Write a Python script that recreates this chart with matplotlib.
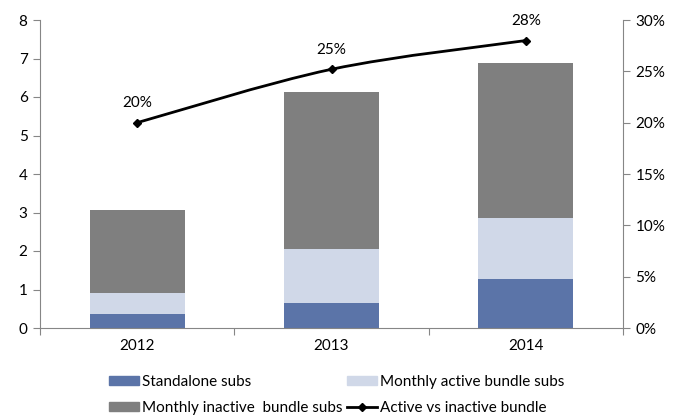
import numpy as np
import matplotlib.pyplot as plt
from matplotlib.path import Path
from matplotlib.patches import PathPatch, Patch
from matplotlib.lines import Line2D

plt.rcParams["font.family"] = ["Lato", "DejaVu Sans"]

years = ["2012", "2013", "2014"]
standalone = [0.37, 0.66, 1.27]
active_bundle = [0.55, 1.39, 1.60]
inactive_bundle = [2.14, 4.07, 4.01]
active_share = [20, 25.2, 28]
share_labels = ["20%", "25%", "28%"]

blue = "#5B74A8"
light = "#D0D8E8"
grey = "#7F7F7F"
axis_col = "#868686"
fs = 11

fig = plt.figure(figsize=(6.85, 4.18), dpi=100)
ax = fig.add_axes([40 / 685, 90 / 418, 583 / 685, 308 / 418])
x = np.arange(len(years))
w = 0.49

bottom2 = np.array(standalone) + np.array(active_bundle)
ax.bar(x, standalone, w, color=blue)
ax.bar(x, active_bundle, w, bottom=standalone, color=light)
ax.bar(x, inactive_bundle, w, bottom=bottom2, color=grey)

ax.set_xlim(-0.5, 2.5)
ax.set_ylim(0, 8)
ax.set_yticks(range(0, 9))
ax.set_xticks([-0.5, 0.5, 1.5, 2.5])
ax.set_xticklabels([])
ax.set_xticks(x, minor=True)
ax.set_xticklabels(years, minor=True)
ax.tick_params(axis="x", which="minor", length=0, pad=8, labelsize=fs)
ax.tick_params(axis="x", which="major", length=5, color=axis_col)
ax.tick_params(axis="y", length=5, color=axis_col, labelsize=fs, pad=4)
for s in ["top", "right"]:
    ax.spines[s].set_visible(False)
for s in ["left", "bottom"]:
    ax.spines[s].set_color(axis_col)

ax2 = ax.twinx()
ax2.set_ylim(0, 30)
ax2.set_yticks(range(0, 31, 5))
ax2.set_yticklabels([f"{v}%" for v in range(0, 31, 5)])
ax2.tick_params(axis="y", length=5, color=axis_col, labelsize=fs, pad=4)
for s in ["top", "left", "bottom"]:
    ax2.spines[s].set_visible(False)
ax2.spines["right"].set_color(axis_col)

# smoothed line through the share points (cardinal bezier segments)
pts = np.column_stack([x, active_share]).astype(float)
verts = [pts[0]]
codes = [Path.MOVETO]
t = 1 / 6
for i in range(len(pts) - 1):
    p0 = pts[i - 1] if i > 0 else pts[i]
    p1, p2 = pts[i], pts[i + 1]
    p3 = pts[i + 2] if i + 2 < len(pts) else pts[i + 1]
    c1 = p1 + (p2 - p0) * t
    c2 = p2 - (p3 - p1) * t
    verts += [c1, c2, p2]
    codes += [Path.CURVE4] * 3
ax2.add_patch(PathPatch(Path(verts, codes), fill=False, lw=2, color="black"))
ax2.plot(x, active_share, ls="none", marker="D", ms=4.5, color="black")
for xi, yi, lab in zip(x, active_share, share_labels):
    ax2.annotate(lab, (xi, yi), xytext=(0, 9), textcoords="offset points",
                 ha="center", va="bottom", fontsize=fs)

handles = [
    Patch(color=blue, label="Standalone subs"),
    Patch(color=grey, label="Monthly inactive  bundle subs"),
    Patch(color=light, label="Monthly active bundle subs"),
    Line2D([], [], color="black", lw=2, marker="D", ms=4, label="Active vs inactive bundle"),
]
fig.legend(handles=handles, ncol=2, loc="lower left", bbox_to_anchor=(95 / 685, -0.025),
           frameon=False, fontsize=fs, handlelength=2.0, handleheight=0.5,
           handletextpad=0.15, columnspacing=0.3, labelspacing=0.75)

fig.savefig("out.png", dpi=100)
